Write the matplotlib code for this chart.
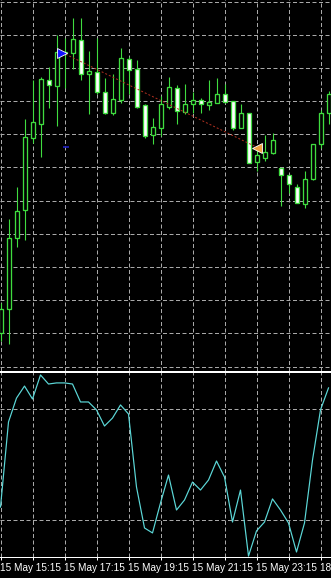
import numpy as np
import matplotlib
matplotlib.use("Agg")
import matplotlib.pyplot as plt

# ---- data (M15 candles; price units are chart points) ----
opens  = [38, 62, 133, 161, 233, 247, 291, 285, 318, 318, 331, 297, 299, 279, 258, 271, 312, 302, 266, 236, 243,
          264, 283, 259, 267, 271, 266, 268, 277, 270, 243, 258, 209, 213, 218, 203, 196, 184, 167, 192, 227, 258]
highs  = [68, 152, 184, 252, 291, 294, 304, 336, 333, 353, 353, 320, 333, 293, 297, 323, 314, 311, 267, 253, 275,
          294, 286, 287, 279, 273, 291, 293, 287, 270, 267, 258, 222, 236, 238, 203, 196, 187, 200, 227, 261, 280]
lows   = [30, 27, 124, 131, 228, 214, 263, 245, 283, 302, 291, 257, 277, 257, 256, 268, 277, 263, 233, 227, 235,
          262, 247, 257, 258, 258, 261, 268, 268, 241, 243, 208, 200, 210, 217, 165, 178, 168, 163, 191, 223, 247]
closes = [62, 133, 160, 234, 249, 292, 286, 319, 319, 332, 297, 300, 279, 258, 272, 313, 301, 264, 235, 244, 267,
          284, 260, 267, 271, 267, 269, 277, 269, 243, 258, 208, 216, 219, 231, 196, 187, 168, 192, 227, 258, 277]

oscillator = [27.0, 73.0, 85.9, 92.4, 85.4, 98.4, 93.5, 94.1, 94.1, 93.5, 83.8, 83.8, 79.5, 70.8, 75.1, 82.2, 77.3,
              37.8, 15.7, 13.0, 29.2, 44.3, 25.4, 30.8, 40.5, 36.2, 41.6, 51.9, 43.2, 18.9, 36.2, 0.5, 14.1, 18.9,
              31.4, 25.4, 18.4, 2.7, 18.4, 52.4, 79.5, 91.4]
osc_levels = [80, 20]

tick_labels = ["15 May 15:15", "15 May 17:15", "15 May 19:15", "15 May 21:15", "15 May 23:15", "18 May 01:15"]

trade_x = [7.7, 32.1]
trade_price = [318, 223]
level_mark_x = [7.75, 8.5]
level_mark_price = 224

# ---- style ----
W, H = 331, 578
BG = "black"
GREEN = "#3fdc3f"
GRID = "#a8a8a8"
CYAN = "#5cd8d8"
PX = 72 / 100  # points per pixel

fig = plt.figure(figsize=(W / 100, H / 100), dpi=100, facecolor=BG)
ax = fig.add_axes([0, 1 - 370.5 / H, 1, 370.5 / H], facecolor=BG)
ax2 = fig.add_axes([0, 1 - 557 / H, 1, (557 - 372) / H], facecolor=BG)

n = len(opens)
x = np.arange(n)
xlim = (-0.5 / 8, (W - 0.5) / 8)

grid_kw = dict(color=GRID, linewidth=PX, linestyle=(0, (4, 2.5)), zorder=0)

# main panel grid
for gx in range(0, 44, 4):
    ax.axvline(gx, **grid_kw)
for gy in np.linspace(4, 369, 12):
    ax.axhline(gy, **grid_kw)

# candles
o = np.array(opens); c = np.array(closes)
ax.vlines(x, lows, highs, color=GREEN, linewidth=PX * 1.1, zorder=2)
fills = ["black" if cc >= oo else "white" for oo, cc in zip(o, c)]
ax.bar(x, c - o, bottom=o, width=0.5, color=fills, edgecolor=GREEN, linewidth=PX * 1.3, zorder=3)

# trade line & markers
ax.plot(trade_x, trade_price, color="#b03020", linewidth=PX, linestyle=(0, (2, 2)), zorder=4)
ax.plot(trade_x[0], trade_price[0], marker=">", markersize=7, color="#1010ff", markeredgecolor="white",
        markeredgewidth=0.6, zorder=5)
ax.plot(trade_x[1], trade_price[1], marker="<", markersize=7, color="#f0a040", markeredgecolor="white",
        markeredgewidth=0.6, zorder=5)
ax.hlines(level_mark_price, level_mark_x[0], level_mark_x[1], color="#2020c0", linewidth=1.2, zorder=4)

ax.set_xlim(*xlim)
ax.set_ylim(0, 370.5)
ax.set_xticks([]); ax.set_yticks([])
for s in ["top", "left", "right"]:
    ax.spines[s].set_visible(False)
ax.spines["bottom"].set_color("white")
ax.spines["bottom"].set_linewidth(PX)

# oscillator panel
for gx in range(0, 44, 4):
    ax2.axvline(gx, **grid_kw)
for lv in osc_levels:
    ax2.axhline(lv, **grid_kw)
ax2.plot(x, oscillator, color=CYAN, linewidth=PX * 1.2, zorder=3)
ax2.set_xlim(*xlim)
ax2.set_ylim(0, 100)
ax2.set_yticks([])
for s in ["left", "right"]:
    ax2.spines[s].set_visible(False)
for s in ["top", "bottom"]:
    ax2.spines[s].set_color("white")
    ax2.spines[s].set_linewidth(PX)

ticks = list(range(0, 44, 4))
labels = [tick_labels[t // 8] if t % 8 == 0 else "" for t in ticks]
ax2.set_xticks(ticks)
ax2.set_xticklabels(labels, fontsize=7.2, family=["Liberation Sans", "DejaVu Sans"], color="white", ha="left")
ax2.tick_params(axis="x", colors="white", length=3 * PX, width=PX, pad=2.5, direction="out")

fig.savefig("out.png", dpi=100, facecolor=BG)
